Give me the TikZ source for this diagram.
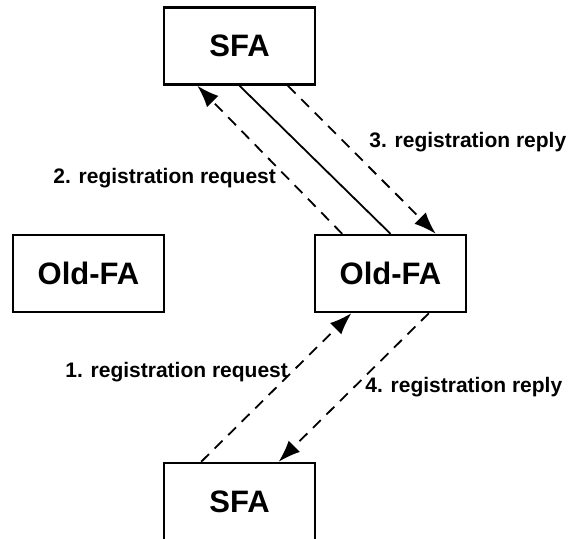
\documentclass[tikz,border=0pt]{standalone}
\usepackage{fontspec}
\setmainfont{Liberation Sans}
\usetikzlibrary{calc, arrows.meta, positioning}

\begin{document}
\begin{tikzpicture}[>={Latex[length=11pt, width=8pt]}, x=0.5pt, y=-0.5pt,
    box/.style={draw, line width=1.2pt, minimum width=75.5pt, minimum height=38.5pt,
        inner sep=0pt, font=\fontsize{15.5}{18}\selectfont\bfseries},
    msg/.style={inner sep=0pt, anchor=base west, font=\fontsize{10.5}{12}\selectfont\bfseries},
    dashline/.style={line width=0.9pt, dash pattern=on 5.5pt off 4pt}]
    \useasboundingbox (0,0) rectangle (568,538);
    % 1. Các khối
    \node[box] (sfaTop) at (239.5,46) {SFA};
    \node[box] (oldLeft) at (88.5,273.5) {Old-FA};
    \node[box] (oldRight) at (390.5,273.5) {Old-FA};
    \node[box] (sfaBot) at (239.5,501.5) {SFA};

    % 2. Các mũi tên
    \draw[dashline, ->] ($(oldRight.north west)!0.185!(oldRight.north east)$)
        -- ($(sfaTop.south west)!0.225!(sfaTop.south east)$);
    \draw[line width=0.9pt] (sfaTop.south) -- (oldRight.north);
    \draw[dashline, ->] ($(sfaTop.south west)!0.815!(sfaTop.south east)$)
        -- ($(oldRight.north west)!0.795!(oldRight.north east)$);
    \draw[dashline, ->] ($(sfaBot.north west)!0.25!(sfaBot.north east)$)
        -- ($(oldRight.south west)!0.245!(oldRight.south east)$);
    \draw[dashline, ->] ($(oldRight.south west)!0.75!(oldRight.south east)$)
        -- ($(sfaBot.north west)!0.755!(sfaBot.north east)$);

    % 3. Nhãn
    \node[msg] (req2) at (53,183) {2. registration request};
    \node[msg] (rep3) at (369,147) {3. registration reply};
    \node[msg] (req1) at (65,377) {1. registration request};
    \node[msg] (rep4) at (365,392) {4. registration reply};
\end{tikzpicture}
\end{document}
